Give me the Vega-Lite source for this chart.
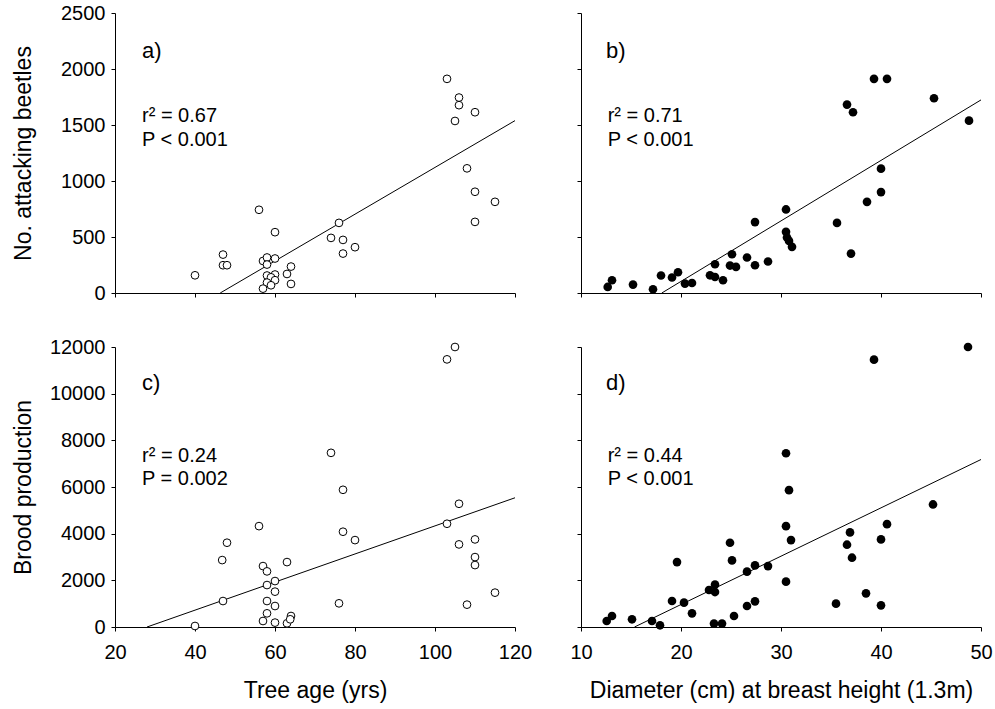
{
  "$schema": "https://vega.github.io/schema/vega-lite/v6.json",
  "background": "white",
  "padding": {"left": 12, "top": 3, "right": 5, "bottom": 5},
  "datasets": {
    "ptsA": [
      {"x": 40, "y": 158}, {"x": 47, "y": 343}, {"x": 47, "y": 248}, {"x": 48, "y": 248},
      {"x": 56, "y": 743}, {"x": 60, "y": 543}, {"x": 57, "y": 286}, {"x": 58, "y": 317},
      {"x": 60, "y": 308}, {"x": 58, "y": 254}, {"x": 64, "y": 236}, {"x": 63, "y": 170},
      {"x": 64, "y": 81}, {"x": 58, "y": 156}, {"x": 60, "y": 165}, {"x": 59, "y": 140},
      {"x": 60, "y": 114}, {"x": 58, "y": 93}, {"x": 57, "y": 39}, {"x": 59, "y": 69},
      {"x": 76, "y": 626}, {"x": 74, "y": 492}, {"x": 77, "y": 474}, {"x": 77, "y": 352},
      {"x": 80, "y": 409}, {"x": 103, "y": 1912}, {"x": 106, "y": 1745}, {"x": 106, "y": 1677},
      {"x": 105, "y": 1536}, {"x": 110, "y": 1614}, {"x": 108, "y": 1113}, {"x": 110, "y": 904},
      {"x": 115, "y": 814}, {"x": 110, "y": 635}
    ],
    "ptsB": [
      {"x": 12.67, "y": 54}, {"x": 13.1, "y": 114}, {"x": 15.2, "y": 75}, {"x": 17.2, "y": 33},
      {"x": 18.0, "y": 156}, {"x": 19.1, "y": 138}, {"x": 19.7, "y": 185}, {"x": 20.4, "y": 84},
      {"x": 21.1, "y": 89}, {"x": 22.9, "y": 158}, {"x": 23.4, "y": 257}, {"x": 23.4, "y": 143},
      {"x": 24.2, "y": 114}, {"x": 24.9, "y": 245}, {"x": 25.1, "y": 346}, {"x": 25.5, "y": 233},
      {"x": 26.6, "y": 317}, {"x": 27.4, "y": 248}, {"x": 27.4, "y": 633}, {"x": 28.7, "y": 281},
      {"x": 30.5, "y": 746}, {"x": 30.5, "y": 546}, {"x": 30.6, "y": 496}, {"x": 30.8, "y": 465},
      {"x": 31.1, "y": 412}, {"x": 35.6, "y": 626}, {"x": 37.0, "y": 352}, {"x": 36.6, "y": 1682},
      {"x": 37.2, "y": 1614}, {"x": 38.6, "y": 814}, {"x": 39.3, "y": 1912}, {"x": 40.6, "y": 1912},
      {"x": 40.0, "y": 901}, {"x": 40.0, "y": 1110}, {"x": 45.3, "y": 1739}, {"x": 48.8, "y": 1539}
    ],
    "ptsC": [
      {"x": 40, "y": 43}, {"x": 47, "y": 1113}, {"x": 46.8, "y": 2868}, {"x": 48, "y": 3612},
      {"x": 56, "y": 4323}, {"x": 57, "y": 2611}, {"x": 58, "y": 2384}, {"x": 63, "y": 2782},
      {"x": 60, "y": 1969}, {"x": 58, "y": 1798}, {"x": 60, "y": 1515}, {"x": 58, "y": 1113},
      {"x": 60, "y": 899}, {"x": 58, "y": 586}, {"x": 64, "y": 471}, {"x": 57, "y": 257},
      {"x": 60, "y": 188}, {"x": 63, "y": 158}, {"x": 63.8, "y": 330}, {"x": 74, "y": 7464},
      {"x": 77, "y": 5880}, {"x": 77, "y": 4083}, {"x": 80, "y": 3724}, {"x": 76, "y": 1014},
      {"x": 103, "y": 11470}, {"x": 105, "y": 12000}, {"x": 106, "y": 5281}, {"x": 103, "y": 4425},
      {"x": 106, "y": 3540}, {"x": 110, "y": 3754}, {"x": 110, "y": 2996}, {"x": 110, "y": 2654},
      {"x": 115, "y": 1472}, {"x": 108, "y": 958}
    ],
    "ptsD": [
      {"x": 12.57, "y": 257}, {"x": 13.1, "y": 471}, {"x": 15.1, "y": 330}, {"x": 17.1, "y": 257},
      {"x": 17.9, "y": 73}, {"x": 19.6, "y": 2782}, {"x": 19.1, "y": 1113}, {"x": 20.3, "y": 1044},
      {"x": 21.1, "y": 586}, {"x": 22.8, "y": 1584}, {"x": 23.4, "y": 1815}, {"x": 23.4, "y": 1498},
      {"x": 23.3, "y": 145}, {"x": 24.1, "y": 145}, {"x": 24.9, "y": 3612}, {"x": 25.1, "y": 2855},
      {"x": 25.3, "y": 471}, {"x": 26.6, "y": 2371}, {"x": 27.4, "y": 2641}, {"x": 26.6, "y": 899},
      {"x": 27.4, "y": 1100}, {"x": 28.7, "y": 2611}, {"x": 30.5, "y": 7447}, {"x": 30.8, "y": 5864},
      {"x": 30.5, "y": 4323}, {"x": 31.0, "y": 3724}, {"x": 30.5, "y": 1943}, {"x": 35.5, "y": 1001},
      {"x": 36.9, "y": 4053}, {"x": 36.6, "y": 3527}, {"x": 37.1, "y": 2970}, {"x": 38.5, "y": 1442},
      {"x": 39.3, "y": 11457}, {"x": 40.0, "y": 3754}, {"x": 40.6, "y": 4408}, {"x": 40.0, "y": 929},
      {"x": 45.2, "y": 5252}, {"x": 48.7, "y": 12000}
    ],
    "lineA": [{"x": 46.3, "y": 0}, {"x": 120, "y": 1539}],
    "lineB": [{"x": 18.08, "y": 0}, {"x": 50, "y": 1724}],
    "lineC": [{"x": 28, "y": 0}, {"x": 120, "y": 5538}],
    "lineD": [{"x": 15.35, "y": 0}, {"x": 50, "y": 7178}],
    "labA": [{"x": 26.75, "y": 2097, "t": "a)"}],
    "labB": [{"x": 12.5, "y": 2097, "t": "b)"}],
    "labC": [{"x": 26.75, "y": 10174, "t": "c)"}],
    "labD": [{"x": 12.5, "y": 10174, "t": "d)"}],
    "statA": [{"x": 26.75, "y": 1530, "t": "r² = 0.67"}, {"x": 26.75, "y": 1315, "t": "P < 0.001"}],
    "statB": [{"x": 12.67, "y": 1530, "t": "r² = 0.71"}, {"x": 12.67, "y": 1315, "t": "P < 0.001"}],
    "statC": [{"x": 26.75, "y": 7079, "t": "r² = 0.24"}, {"x": 26.75, "y": 6065, "t": "P = 0.002"}],
    "statD": [{"x": 12.67, "y": 7079, "t": "r² = 0.44"}, {"x": 12.67, "y": 6065, "t": "P < 0.001"}]
  },
  "columns": 2,
  "spacing": {"row": 54, "column": 66},
  "bounds": "flush",
  "concat": [
    {
      "width": 400, "height": 280,
      "encoding": {
        "x": {"field": "x", "type": "quantitative", "scale": {"domain": [20, 120], "nice": false, "zero": false},
              "axis": {"values": [20, 40, 60, 80, 100, 120], "labels": false, "title": null}},
        "y": {"field": "y", "type": "quantitative", "scale": {"domain": [0, 2500], "nice": false, "zero": false},
              "axis": {"values": [0, 500, 1000, 1500, 2000, 2500], "format": "d", "title": "No. attacking beetles", "titleX": -103, "titleBaseline": "top", "titleAngle": 270}}
      },
      "layer": [
        {"data": {"name": "lineA"}, "mark": {"type": "line", "color": "black", "strokeWidth": 1}},
        {"data": {"name": "ptsA"}, "mark": {"type": "point", "shape": "circle", "filled": true, "fill": "white", "stroke": "black", "strokeWidth": 1, "size": 60, "opacity": 1}},
        {"data": {"name": "labA"}, "mark": {"type": "text", "align": "left", "baseline": "alphabetic", "fontSize": 22, "font": "Liberation Sans", "color": "black"}, "encoding": {"text": {"field": "t"}}},
        {"data": {"name": "statA"}, "mark": {"type": "text", "align": "left", "baseline": "alphabetic", "fontSize": 20, "font": "Liberation Sans", "color": "black"}, "encoding": {"text": {"field": "t"}}}
      ]
    },
    {
      "width": 400, "height": 280,
      "encoding": {
        "x": {"field": "x", "type": "quantitative", "scale": {"domain": [10, 50], "nice": false, "zero": false},
              "axis": {"values": [10, 20, 30, 40, 50], "labels": false, "title": null}},
        "y": {"field": "y", "type": "quantitative", "scale": {"domain": [0, 2500], "nice": false, "zero": false},
              "axis": {"values": [0, 500, 1000, 1500, 2000, 2500], "labels": false, "title": null}}
      },
      "layer": [
        {"data": {"name": "lineB"}, "mark": {"type": "line", "color": "black", "strokeWidth": 1}},
        {"data": {"name": "ptsB"}, "mark": {"type": "point", "shape": "circle", "filled": true, "fill": "black", "stroke": null, "size": 75, "opacity": 1}},
        {"data": {"name": "labB"}, "mark": {"type": "text", "align": "left", "baseline": "alphabetic", "fontSize": 22, "font": "Liberation Sans", "color": "black"}, "encoding": {"text": {"field": "t"}}},
        {"data": {"name": "statB"}, "mark": {"type": "text", "align": "left", "baseline": "alphabetic", "fontSize": 20, "font": "Liberation Sans", "color": "black"}, "encoding": {"text": {"field": "t"}}}
      ]
    },
    {
      "width": 400, "height": 280,
      "encoding": {
        "x": {"field": "x", "type": "quantitative", "scale": {"domain": [20, 120], "nice": false, "zero": false},
              "axis": {"values": [20, 40, 60, 80, 100, 120], "title": "Tree age (yrs)", "titleY": 52, "titleBaseline": "top"}},
        "y": {"field": "y", "type": "quantitative", "scale": {"domain": [0, 12000], "nice": false, "zero": false},
              "axis": {"values": [0, 2000, 4000, 6000, 8000, 10000, 12000], "format": "d", "title": "Brood production", "titleX": -103, "titleBaseline": "top", "titleAngle": 270}}
      },
      "layer": [
        {"data": {"name": "lineC"}, "mark": {"type": "line", "color": "black", "strokeWidth": 1}},
        {"data": {"name": "ptsC"}, "mark": {"type": "point", "shape": "circle", "filled": true, "fill": "white", "stroke": "black", "strokeWidth": 1, "size": 60, "opacity": 1}},
        {"data": {"name": "labC"}, "mark": {"type": "text", "align": "left", "baseline": "alphabetic", "fontSize": 22, "font": "Liberation Sans", "color": "black"}, "encoding": {"text": {"field": "t"}}},
        {"data": {"name": "statC"}, "mark": {"type": "text", "align": "left", "baseline": "alphabetic", "fontSize": 20, "font": "Liberation Sans", "color": "black"}, "encoding": {"text": {"field": "t"}}}
      ]
    },
    {
      "width": 400, "height": 280,
      "encoding": {
        "x": {"field": "x", "type": "quantitative", "scale": {"domain": [10, 50], "nice": false, "zero": false},
              "axis": {"values": [10, 20, 30, 40, 50], "title": "Diameter (cm) at breast height (1.3m)", "titleY": 52, "titleBaseline": "top"}},
        "y": {"field": "y", "type": "quantitative", "scale": {"domain": [0, 12000], "nice": false, "zero": false},
              "axis": {"values": [0, 2000, 4000, 6000, 8000, 10000, 12000], "labels": false, "title": null}}
      },
      "layer": [
        {"data": {"name": "lineD"}, "mark": {"type": "line", "color": "black", "strokeWidth": 1}},
        {"data": {"name": "ptsD"}, "mark": {"type": "point", "shape": "circle", "filled": true, "fill": "black", "stroke": null, "size": 75, "opacity": 1}},
        {"data": {"name": "labD"}, "mark": {"type": "text", "align": "left", "baseline": "alphabetic", "fontSize": 22, "font": "Liberation Sans", "color": "black"}, "encoding": {"text": {"field": "t"}}},
        {"data": {"name": "statD"}, "mark": {"type": "text", "align": "left", "baseline": "alphabetic", "fontSize": 20, "font": "Liberation Sans", "color": "black"}, "encoding": {"text": {"field": "t"}}}
      ]
    }
  ],
  "config": {
    "view": {"stroke": null},
    "font": "Liberation Sans",
    "axis": {
      "grid": false, "domainColor": "black", "tickColor": "black", "tickSize": 4,
      "domainWidth": 1, "tickWidth": 1,
      "labelFont": "Liberation Sans", "labelFontSize": 20, "labelColor": "black",
      "labelFlush": false, "labelOverlap": false,
      "titleFont": "Liberation Sans", "titleFontSize": 23, "titleFontWeight": "normal", "titleColor": "black"
    },
    "axisX": {"labelPadding": 11},
    "axisY": {"labelPadding": 6}
  }
}
